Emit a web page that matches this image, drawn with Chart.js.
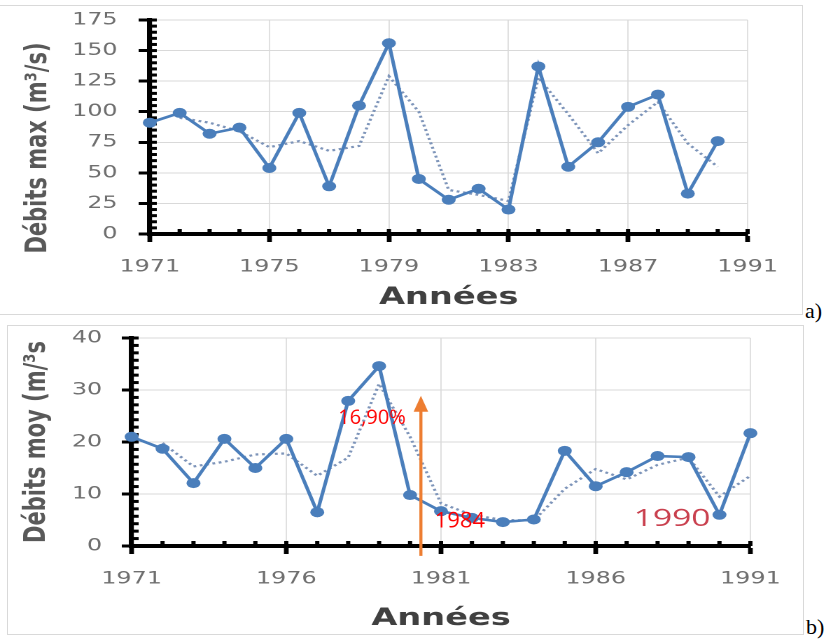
<!DOCTYPE html>
<html>
<head>
<meta charset="utf-8">
<script src="https://cdn.jsdelivr.net/npm/chart.js@4.4.1/dist/chart.umd.min.js"></script>
<style>
  html, body { margin: 0; padding: 0; background: #fff; width: 833px; height: 640px; overflow: hidden; }
  .wrap { position: absolute; left: 0; transform: scaleX(1.4); transform-origin: 0 0; }
  .box { position: absolute; border: 1.5px solid #d9d9d9; }
  .lab { position: absolute; font-family: 'Liberation Serif', serif; font-size: 22px; line-height: 22px; color: #000; }
</style>
</head>
<body>
<div class="box" style="left:-4px; top:5px; width:806px; height:308px; border-left:none;"></div>
<div class="box" style="left:7px; top:325px; width:795px; height:308px;"></div>
<div class="wrap" style="top:0px"><canvas id="chartMax" width="574" height="318"></canvas></div>
<div class="wrap" style="top:320px"><canvas id="chartMoy" width="574" height="320"></canvas></div>
<div class="lab" style="left:805px; top:300px;">a)</div>
<div class="lab" style="left:806px; top:616px;">b)</div>

<script>
// a) débits maximaux
const yearsMax = [1971, 1972, 1973, 1974, 1975, 1976, 1977, 1978, 1979, 1980,
                  1981, 1982, 1983, 1984, 1985, 1986, 1987, 1988, 1989, 1990];
const debitsMax = [91, 99, 82, 87, 54, 99, 39, 105, 156, 45,
                   28, 37, 20, 137, 55, 75, 104, 114, 33, 76];
const trendYearsMax = [1972, 1973, 1974, 1975, 1976, 1977, 1978, 1979, 1980,
                       1981, 1982, 1983, 1984, 1985, 1986, 1987, 1988, 1989, 1990];
const trendMax = [95, 91, 84, 71, 76, 68, 72, 129, 100,
                  36, 32, 27, 128, 98, 66, 89, 108, 74, 55];
const xTicksMax = [1971, 1975, 1979, 1983, 1987, 1991];

// b) débits moyens
const yearsMoy = [1971, 1972, 1973, 1974, 1975, 1976, 1977, 1978, 1979, 1980, 1981,
                  1982, 1983, 1984, 1985, 1986, 1987, 1988, 1989, 1990, 1991];
const debitsMoy = [21, 18.7, 12.1, 20.6, 15, 20.6, 6.5, 27.9, 34.6, 9.8, 6.7,
                   5.4, 4.6, 5.1, 18.3, 11.5, 14.2, 17.3, 17.1, 6, 21.7];
const trendYearsMoy = [1972, 1973, 1974, 1975, 1976, 1977, 1978, 1979, 1980, 1981,
                       1982, 1983, 1984, 1985, 1986, 1987, 1988, 1989, 1990, 1991];
const trendMoy = [19.8, 15.3, 16.2, 17.6, 17.8, 13.5, 17, 31.2, 21, 8.2,
                  6, 5, 4.9, 11, 14.8, 12.8, 15.6, 17, 9.5, 13.5];
const xTicksMoy = [1971, 1976, 1981, 1986, 1991];

// annotations du graphique b)
const noteTexts = ['16,90%', '1984', '1990'];
const noteYears = [1978.77, 1981.61, 1988.47];
const noteValues = [24.6, 4.8, 5.2];
const arrowYear = 1980.35;
const arrowFrom = -1.9;
const arrowTo = 28.9;

const STRETCH = 1.4;
const BLUE = '#4a7ebb';
const DOTS = '#7d94b9';
const TICK_FONT = { family: 'DejaVu Sans', size: 17 };

// petites graduations (comme Excel) : intérieures sur les deux axes
const axisMarks = {
    id: 'axisMarks',
    beforeDatasetsDraw(chart, args, opts) {
        const { ctx, chartArea: a, scales: { x, y } } = chart;
        ctx.save();
        ctx.fillStyle = '#000';
        for (let v = y.min; v <= y.max + 1e-6; v += opts.yMinor) {
            ctx.fillRect(a.left, y.getPixelForValue(v) - 1.5, 5, 3);
        }
        for (let v = x.min; v <= x.max + 1e-6; v += 1) {
            ctx.fillRect(x.getPixelForValue(v) - 1.5, a.bottom - 5, 3, 5);
        }
        ctx.restore();
    }
};

const notes = {
    id: 'notes',
    afterDraw(chart, args, opts) {
        if (!opts.show) return;
        const { ctx, scales: { x, y } } = chart;
        ctx.save();

        // flèche orange (ajoutée par-dessus, non étirée)
        const ax = x.getPixelForValue(arrowYear);
        const yb = y.getPixelForValue(arrowFrom);
        const yt = y.getPixelForValue(arrowTo);
        ctx.fillStyle = '#ed7d31';
        ctx.fillRect(ax - 1.1, yt + 14, 2.2, yb - yt - 14);
        ctx.beginPath();
        ctx.moveTo(ax, yt);
        ctx.lineTo(ax + 5.2, yt + 16);
        ctx.lineTo(ax - 5.2, yt + 16);
        ctx.closePath();
        ctx.fill();

        ctx.textAlign = 'center';
        ctx.textBaseline = 'middle';
        const styles = [
            { font: '20px "Open Sans"', color: '#ff0000', flat: true },
            { font: '22px "Open Sans"', color: '#ff0000', flat: true },
            { font: '24px "Open Sans"', color: '#c9404e', flat: false }
        ];
        noteTexts.forEach((t, i) => {
            const s = styles[i];
            ctx.save();
            ctx.translate(x.getPixelForValue(noteYears[i]), y.getPixelForValue(noteValues[i]));
            if (s.flat) ctx.scale(1 / STRETCH, 1);
            ctx.font = s.font;
            ctx.fillStyle = s.color;
            ctx.fillText(t, 0, 0);
            ctx.restore();
        });
        ctx.restore();
    }
};

function points(xs, ys) {
    return xs.map((v, i) => ({ x: v, y: ys[i] }));
}

function buildChart(id, cfg) {
    return new Chart(document.getElementById(id), {
        type: 'line',
        data: {
            datasets: [{
                data: points(cfg.years, cfg.values),
                borderColor: BLUE,
                backgroundColor: BLUE,
                borderWidth: 2.6,
                pointRadius: 5,
                pointHoverRadius: 5,
                pointBorderWidth: 0,
                clip: false
            }, {
                data: points(cfg.trendYears, cfg.trend),
                borderColor: DOTS,
                borderWidth: 2.2,
                borderDash: [2, 2.6],
                pointRadius: 0,
                clip: false
            }]
        },
        options: {
            responsive: false,
            devicePixelRatio: 2,
            animation: false,
            events: [],
            layout: { padding: { left: 0, right: cfg.padRight, top: cfg.padTop, bottom: 0 } },
            plugins: {
                legend: { display: false },
                tooltip: { enabled: false },
                axisMarks: { yMinor: cfg.yMinor },
                notes: { show: cfg.notes }
            },
            scales: {
                x: {
                    type: 'linear',
                    min: cfg.xTicks[0],
                    max: cfg.xTicks[cfg.xTicks.length - 1],
                    afterBuildTicks: s => { s.ticks = cfg.xTicks.map(v => ({ value: v })); },
                    afterFit: s => { s.height = cfg.xHeight; s.paddingLeft = 0; s.paddingRight = 0; },
                    grid: { color: '#d9d9d9', lineWidth: 0.8, tickLength: 8, tickColor: '#000', tickWidth: 3.4 },
                    border: { color: '#000', width: 4 },
                    ticks: {
                        font: TICK_FONT, color: '#6f6f6f', padding: 15,
                        autoSkip: false, maxRotation: 0, callback: v => String(v)
                    },
                    title: {
                        display: true, text: 'Années', color: '#404040',
                        font: { family: 'DejaVu Sans', size: 24, weight: 'bold' },
                        padding: { top: 0, bottom: cfg.xTitlePad }
                    }
                },
                y: {
                    min: 0,
                    max: cfg.yMax,
                    afterFit: s => { s.width = cfg.yWidth; s.paddingTop = 0; s.paddingBottom = 0; },
                    grid: { color: '#d9d9d9', lineWidth: 1, tickLength: cfg.yTickLen, tickColor: '#000', tickWidth: 3 },
                    border: { color: '#000', width: 3.6 },
                    ticks: { stepSize: cfg.yStep, font: TICK_FONT, color: '#6f6f6f', padding: cfg.yTickPad },
                    title: {
                        display: true, text: cfg.yTitle, color: '#595959',
                        font: { family: 'DejaVu Sans', size: 21, weight: 'bold' },
                        padding: { top: cfg.yTitlePad, bottom: 0 }
                    }
                }
            }
        },
        plugins: [axisMarks, notes]
    });
}

buildChart('chartMax', {
    years: yearsMax, values: debitsMax, trendYears: trendYearsMax, trend: trendMax,
    xTicks: xTicksMax, yMax: 175, yStep: 25, yMinor: 5,
    yTitle: 'Débits max (m³/s)\u2002\u2002\u2002\u2002',
    padRight: 40, padTop: 20, xHeight: 84, yWidth: 107,
    yTickLen: 8, yTickPad: 15, yTitlePad: 15, xTitlePad: 6, notes: false
});

buildChart('chartMoy', {
    years: yearsMoy, values: debitsMoy, trendYears: trendYearsMoy, trend: trendMoy,
    xTicks: xTicksMoy, yMax: 40, yStep: 10, yMinor: 10 / 7,
    yTitle: 'Débits moy (m/³s',
    padRight: 38, padTop: 18, xHeight: 94, yWidth: 94,
    yTickLen: 7, yTickPad: 14, yTitlePad: 14, xTitlePad: 7, notes: true
});
</script>
</body>
</html>
